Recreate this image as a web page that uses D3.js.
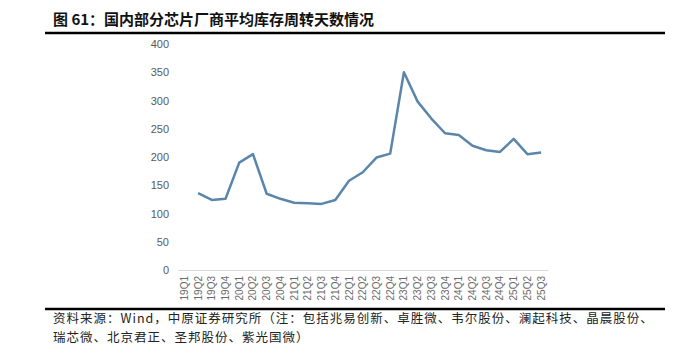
<!DOCTYPE html>
<html><head><meta charset="utf-8">
<script src="https://cdn.jsdelivr.net/npm/d3@7"></script>
<style>body{margin:0;background:#fff}svg{display:block}</style>
</head><body>
<svg id="c" width="695" height="355"></svg>
<script>
const categories = ["19Q1","19Q2","19Q3","19Q4","20Q1","20Q2","20Q3","20Q4","21Q1","21Q2","21Q3","21Q4","22Q1","22Q2","22Q3","22Q4","23Q1","23Q2","23Q3","23Q4","24Q1","24Q2","24Q3","24Q4","25Q1","25Q2","25Q3"];
const values = [null,136,124,126,190,205,135,126,119,118,117,124,158,173,199,206,350,298,268,242,239,220,212,209,232,205,208];
const yTicks = [0,50,100,150,200,250,300,350,400];
const title = "图 61：国内部分芯片厂商平均库存周转天数情况";
const source1 = "资料来源：Wind，中原证券研究所（注：包括兆易创新、卓胜微、韦尔股份、澜起科技、晶晨股份、";
const source2 = "瑞芯微、北京君正、圣邦股份、紫光国微）";

const svg = d3.select("#c");
const x = d3.scaleBand().domain(categories).range([177.5, 548]);
const y = d3.scaleLinear().domain([0, 400]).range([270, 44]);

svg.append("text").attr("x", 53).attr("y", 25).attr("font-family", "Noto Sans CJK SC").attr("font-weight", "bold").attr("font-size", 15).attr("fill", "#111").text(title);
svg.append("line").attr("x1", 45).attr("x2", 665).attr("y1", 33).attr("y2", 33).attr("stroke", "#000").attr("stroke-width", 2.5);

const yAxis = svg.append("g").attr("transform", "translate(169,0)")
  .call(d3.axisLeft(y).tickValues(yTicks).tickSize(0).tickPadding(0));
yAxis.select(".domain").remove();
yAxis.selectAll("text").attr("font-family", "Liberation Sans, Arial").attr("font-size", 11).attr("fill", "#595959");

const xAxis = svg.append("g").attr("transform", "translate(0,270)")
  .call(d3.axisBottom(x).tickSize(0).tickPadding(0));
xAxis.select(".domain").attr("stroke", "#d9d9d9").attr("stroke-width", 1.2);
xAxis.selectAll("text").attr("font-family", "Liberation Sans, Arial").attr("font-size", 10).attr("fill", "#6a6a6a")
  .attr("transform", "rotate(-90)").attr("text-anchor", "end").attr("dx", "-6").attr("dy", "0.35em").attr("y", 0).attr("x", 0);

const line = d3.line().defined(d => d.v != null).x(d => x(d.c) + x.bandwidth() / 2).y(d => y(d.v));
svg.append("path").datum(categories.map((c, i) => ({c, v: values[i]})))
  .attr("d", line).attr("fill", "none").attr("stroke", "#5b86ab").attr("stroke-width", 2.5).attr("stroke-linejoin", "round");

svg.append("line").attr("x1", 45).attr("x2", 665).attr("y1", 309).attr("y2", 309).attr("stroke", "#000").attr("stroke-width", 2.5);
svg.append("text").attr("x", 53).attr("y", 323).attr("font-family", "Noto Sans CJK SC").attr("font-size", 12.5).attr("letter-spacing", 1).attr("fill", "#222").text(source1);
svg.append("text").attr("x", 53).attr("y", 342).attr("font-family", "Noto Sans CJK SC").attr("font-size", 12.5).attr("letter-spacing", 1).attr("fill", "#222").text(source2);
</script>
</body></html>
